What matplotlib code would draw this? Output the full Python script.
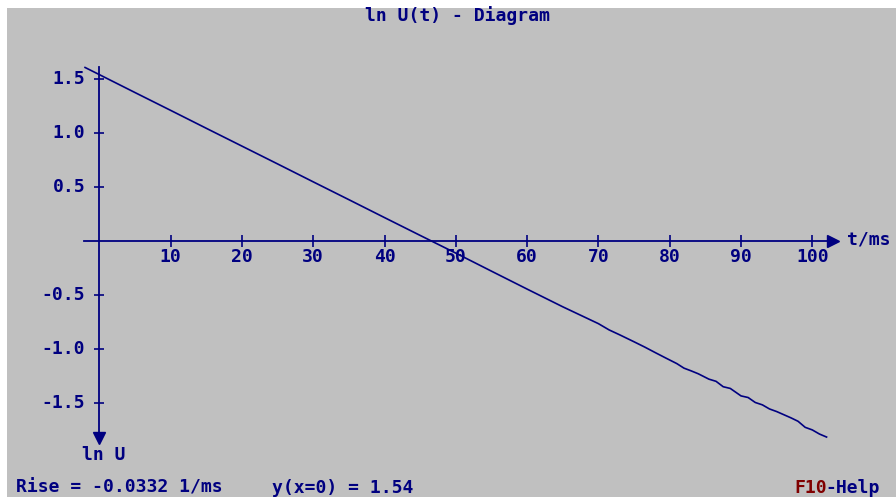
import matplotlib
matplotlib.use("Agg")
import matplotlib.pyplot as plt
from matplotlib.patches import Rectangle

t_ms = [-2, 0, 5, 10, 15, 20, 25, 30, 35, 40, 45, 50, 55, 60, 65, 70,
        71.5, 73, 75, 76.5, 78, 79.5, 81, 82, 83, 84, 85.5, 86.5, 87.5, 88.5,
        90, 91, 92, 93, 94, 95, 96, 97, 98, 99, 100, 101, 102]
ln_u = [1.604, 1.538, 1.372, 1.207, 1.041, 0.876, 0.711, 0.545, 0.380, 0.214,
        0.049, -0.115, -0.282, -0.448, -0.612, -0.768,
        -0.826, -0.872, -0.936, -0.985, -1.037, -1.088, -1.138, -1.180, -1.205,
        -1.232, -1.282, -1.302, -1.352, -1.368,
        -1.437, -1.452, -1.498, -1.520, -1.558, -1.582, -1.611, -1.640, -1.672,
        -1.728, -1.752, -1.790, -1.818]

x_ticks = [10, 20, 30, 40, 50, 60, 70, 80, 90, 100]
y_ticks = [1.5, 1.0, 0.5, -0.5, -1.0, -1.5]
y_labels = ["1.5", "1.0", "0.5", "-0.5", "-1.0", "-1.5"]

title = "ln U(t) - Diagram"
rise_text = "Rise = -0.0332 1/ms"
icpt_text = "y(x=0) = 1.54"

navy = "#000080"
maroon = "#800000"
bg = "#c0c0c0"
font = dict(family="DejaVu Sans Mono", weight="bold", fontsize=13, color=navy)

W, H = 896, 497
fig = plt.figure(figsize=(W / 100, H / 100), dpi=100, facecolor="white")
fig.patches.append(Rectangle((7 / W, 0), 1, 1 - 8 / H, transform=fig.transFigure,
                             facecolor=bg, edgecolor="none", zorder=-10))

ax = fig.add_axes([0, 0, 1, 1])
ax.set_facecolor("none")
# pixel -> data: x origin at 99.3 px, 7.13 px/ms ; y origin at 240.7 px, 108 px/unit
ax.set_xlim(-99.3 / 7.13, (W - 99.3) / 7.13)
ax.set_ylim((240.7 - H) / 108, 240.7 / 108)
ax.axis("off")

# axes with arrows
ax.plot([-2.1, 102.6], [0, 0], color=navy, lw=1.3)
ax.plot([0, 0], [1.61, -1.80], color=navy, lw=1.3)
ax.plot([102.9], [0], marker=">", color=navy, markersize=8)
ax.plot([0], [-1.83], marker="v", color=navy, markersize=8)

ax.plot(x_ticks, [0] * len(x_ticks), linestyle="none", marker="|", color=navy,
        markersize=8, markeredgewidth=1.2)
ax.plot([0] * len(y_ticks), y_ticks, linestyle="none", marker="_", color=navy,
        markersize=7, markeredgewidth=1.2)

for xt in x_ticks:
    ax.text(xt, -0.155, str(xt), ha="center", va="center", **font)
for yt, lab in zip(y_ticks, y_labels):
    ax.text(-2.0, yt, lab, ha="right", va="center", **font)

ax.text(104.9, 0.01, "t/ms", ha="left", va="center", **font)
ax.text(-2.4, -1.985, "ln U", ha="left", va="center", **font)

# measurement
ax.plot(t_ms, ln_u, color=navy, lw=1.2)

fig.text(457 / W, 1 - 16 / H, title, ha="center", va="center", **font)
fig.text(16 / W, 1 - 488 / H, rise_text, ha="left", va="center", **font)
fig.text(272 / W, 1 - 488 / H, icpt_text, ha="left", va="center", **font)
fig.text(794 / W, 1 - 488 / H, "F10", ha="left", va="center",
         **{**font, "color": maroon})
fig.text(825 / W, 1 - 488 / H, "-Help", ha="left", va="center", **font)

fig.savefig("out.png", dpi=100, facecolor="white")
